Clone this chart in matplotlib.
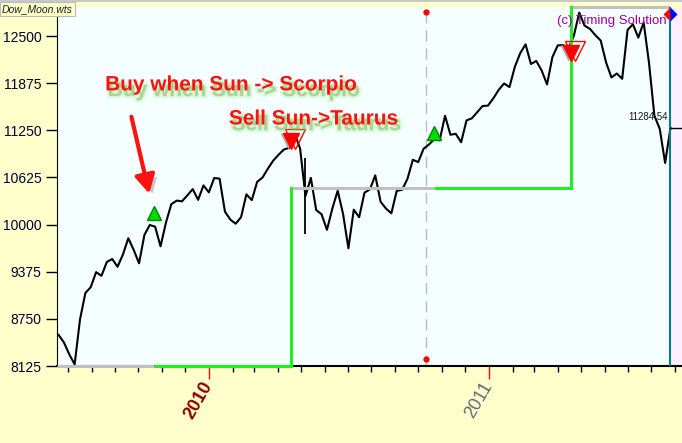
import numpy as np
import pandas as pd
import matplotlib
matplotlib.use("Agg")
import matplotlib.pyplot as plt
import matplotlib.dates as mdates
import matplotlib.patheffects as pe
import matplotlib.transforms as mtransforms
from matplotlib.patches import Rectangle

plt.rcParams['font.family'] = ['Liberation Sans', 'DejaVu Sans']

# ---- data (Dow Jones, weekly closes) ----
week_start = "2009-06-19"
week_end = "2011-08-26"
dow_close = [
    # 2009
    8539, 8438, 8280, 8146, 8743, 9093, 9171, 9370, 9321, 9505, 9544, 9441,
    9605, 9820, 9665, 9487, 9864, 9995, 9972, 9712, 10023, 10270, 10318, 10309,
    10388, 10471, 10328, 10520,
    # 2010
    10428, 10618, 10610, 10172, 10067, 10012, 10099, 10402, 10325, 10567, 10625,
    10742, 10850, 10927, 10997, 11019, 11204, 11009, 10380, 10620, 10193, 10137,
    9931, 10211, 10450, 10143, 9686, 10198, 10098, 10425, 10466, 10653, 10303,
    10213, 10150, 10448, 10462, 10607, 10860, 10829, 11006, 11062, 11133, 11118,
    11444, 11192, 11204, 11092, 11382, 11410, 11492, 11573, 11578,
    # 2011
    11675, 11787, 11872, 11824, 12092, 12273, 12391, 12130, 12170, 12044, 11859,
    12221, 12377, 12380, 12342, 12505, 12811, 12638, 12596, 12512, 12441, 12151,
    11952, 12004, 11934, 12582, 12657, 12480, 12681, 12143, 11445, 11269, 10818,
    11285,
]
spike_dates = ["2010-05-06"]
spike_low = [9870]
spike_high = [10880]

signal_dates = ["2009-10-21", "2010-04-18", "2010-10-21", "2011-04-18"]
signal_kind = ["buy", "sell", "buy", "sell"]
signal_price = [10160, 11105, 11210, 12275]

# equity (position) line: segments between these dates
equity_dates = ["2009-06-17", "2009-10-21", "2010-04-18", "2010-10-21", "2011-04-18", "2011-08-26"]
equity_level = [8125, 8125, 10490, 10490, 12880]
equity_in_trade = [False, True, False, True, False]

cursor_date = "2010-10-11"
last_date = "2011-08-26"
last_close = 11284.54

y_ticks = [8125, 8750, 9375, 10000, 10625, 11250, 11875, 12500]
year_labels = ["2010", "2011"]
year_colors = ["#8B0000", "#5F6B78"]
year_weights = ["bold", "normal"]

x_left, x_right = "2009-06-17", "2011-09-10"
y_low, y_high = 8125, 12886


def dn(s):
    return mdates.date2num(pd.Timestamp(s))


# ---- figure ----
W, H, DPI = 682, 443, 100
fig = plt.figure(figsize=(W / DPI, H / DPI), dpi=DPI, facecolor="#FFFFCC")
ax = fig.add_axes([57 / W, (H - 366) / H, (W - 57) / W, 359 / H])
ax.set_facecolor("#F5FFFF")

dates = mdates.date2num(pd.date_range(week_start, week_end, freq="W-FRI"))
ax.xaxis_date()
ax.set_xlim(dn(x_left), dn(x_right))
ax.set_ylim(y_low, y_high)

ax.axvspan(dn(last_date), dn(x_right), color="#FFEEFF", zorder=0)

ax.plot(dates, dow_close, color="black", lw=1.5, zorder=3)
ax.vlines([dn(d) for d in spike_dates], spike_low, spike_high, color="black", lw=1.3, zorder=3)

# equity line
ed = [dn(d) for d in equity_dates]
for i in range(len(equity_level)):
    col = "#22EE22" if equity_in_trade[i] else "#C0C0C0"
    ax.plot([ed[i], ed[i + 1]], [equity_level[i], equity_level[i]], color=col, lw=2.2,
            zorder=4, clip_on=False, solid_capstyle="butt")
    if i > 0 and equity_level[i] != equity_level[i - 1]:
        ax.plot([ed[i], ed[i]], [equity_level[i - 1], equity_level[i]], color="#22EE22", lw=2.2,
                zorder=4, clip_on=False)

# cursor line
cd = dn(cursor_date)
ax.axvline(cd, color="#BBBBBB", lw=1, dashes=(8, 5), zorder=2)
ax.plot([cd, cd], [0.986, 0.02], "o", color="red", ms=3.5, transform=ax.get_xaxis_transform(),
        zorder=5, clip_on=False)

# last bar line
ld = dn(last_date)
ax.axvline(ld, color="#008080", lw=1.5, zorder=5)
ax.plot([ld, dn(x_right)], [last_close, last_close], color="black", lw=1, zorder=5)
ax.plot([ld], [0.98], marker="D", ms=7, fillstyle="left", markerfacecolor="red",
        markerfacecoloralt="blue", markeredgecolor="none", transform=ax.get_xaxis_transform(),
        zorder=6, clip_on=False)
ax.annotate(f"{last_close:.2f}", xy=(ld, last_close), xytext=(-2, 4), textcoords="offset points",
            ha="right", va="bottom", fontsize=7, color="#1A1A1A", zorder=6)

# signals
for d, k, p in zip(signal_dates, signal_kind, signal_price):
    d = dn(d)
    if k == "buy":
        ax.plot([d], [p], marker="^", ms=10, color="#00DD00", markeredgecolor="#008800", zorder=6)
    else:
        sh = mtransforms.offset_copy(ax.transData, fig=fig, x=-3, y=0, units="dots")
        ax.plot([d], [p], marker="v", ms=11, color="#AAAAAA", markeredgecolor="none", transform=sh,
                zorder=6)
        ax.plot([d], [p], marker="v", ms=11, color="red", markeredgecolor="red", zorder=6)
        of = mtransforms.offset_copy(ax.transData, fig=fig, x=4, y=2, units="dots")
        ax.plot([d], [p], marker="v", ms=14, markerfacecolor="none", markeredgecolor="red",
                markeredgewidth=1, transform=of, zorder=6)

# annotations (soft green shadow under the red captions)
shadow = [pe.Stroke(offset=(2, -4), linewidth=4, foreground="#66EE66", alpha=0.12),
          pe.Stroke(offset=(2, -4), linewidth=2, foreground="#66EE66", alpha=0.18),
          pe.SimplePatchShadow(offset=(2, -4), shadow_rgbFace="#66EE66", alpha=0.3),
          pe.Normal()]
ax.text(0.077, 0.783, "Buy when Sun -> Scorpio", transform=ax.transAxes, fontsize=15,
        fontweight="bold", color="#FF1111", va="center", ha="left", zorder=7, path_effects=shadow)
ax.text(0.275, 0.688, "Sell Sun->Taurus", transform=ax.transAxes, fontsize=15,
        fontweight="bold", color="#FF1111", va="center", ha="left", zorder=7, path_effects=shadow)

buy0 = dn(signal_dates[0])
arr = ax.annotate("", xy=(buy0, signal_price[0]), xytext=(-16, 69), textcoords="offset points",
                  arrowprops=dict(arrowstyle="-|>,head_length=0.55,head_width=0.3", lw=3,
                                  color="#FF1111", mutation_scale=20, shrinkA=0, shrinkB=14),
                  zorder=7)
arr.arrow_patch.set_path_effects([pe.SimplePatchShadow(offset=(3, -3), shadow_rgbFace="#777777",
                                                       alpha=0.4), pe.Normal()])

ax.annotate("(c) Timing Solution", xy=(ld, 1), xycoords=("data", "axes fraction"),
            xytext=(-3, -10), textcoords="offset points", ha="right", va="center",
            fontsize=9.5, color="#990099", zorder=7)

# axes styling
for s in ["top", "right"]:
    ax.spines[s].set_visible(False)
ax.spines["left"].set_color("black")
ax.spines["bottom"].set_color("black")
ax.spines["bottom"].set_linewidth(1.5)

ax.set_yticks(y_ticks)
ax.set_yticklabels([str(v) for v in y_ticks])
ax.tick_params(axis="y", length=8, width=1, color="black", labelsize=10, labelcolor="#000033", pad=3)

ax.xaxis.set_major_locator(mdates.YearLocator())
ax.xaxis.set_minor_locator(mdates.MonthLocator())
ax.tick_params(axis="x", which="major", length=9, width=1, color="red", labelbottom=False)
ax.tick_params(axis="x", which="minor", length=4, width=1, color="black")

for lab, col, wt in zip(year_labels, year_colors, year_weights):
    ax.annotate(lab, xy=(dn(f"{lab}-01-01"), 0), xycoords=ax.get_xaxis_transform(),
                xytext=(5, -9), textcoords="offset points", rotation=60, ha="right", va="top",
                fontsize=13, fontweight=wt, color=col, annotation_clip=False)

# window chrome
fig.patches.append(Rectangle((0, H - 2), W, 2, transform=None, facecolor="#C8C8C8",
                             edgecolor="none", figure=fig))
fig.text(2 / W, 1 - 9 / H, "Dow_Moon.wts", fontsize=7.5, style="italic", color="#222222",
         va="center", ha="left",
         bbox=dict(boxstyle="square,pad=0.2", facecolor="#FFFFCC", edgecolor="#BBBBBB", lw=0.8))

fig.savefig("out.png", dpi=DPI, facecolor=fig.get_facecolor())
